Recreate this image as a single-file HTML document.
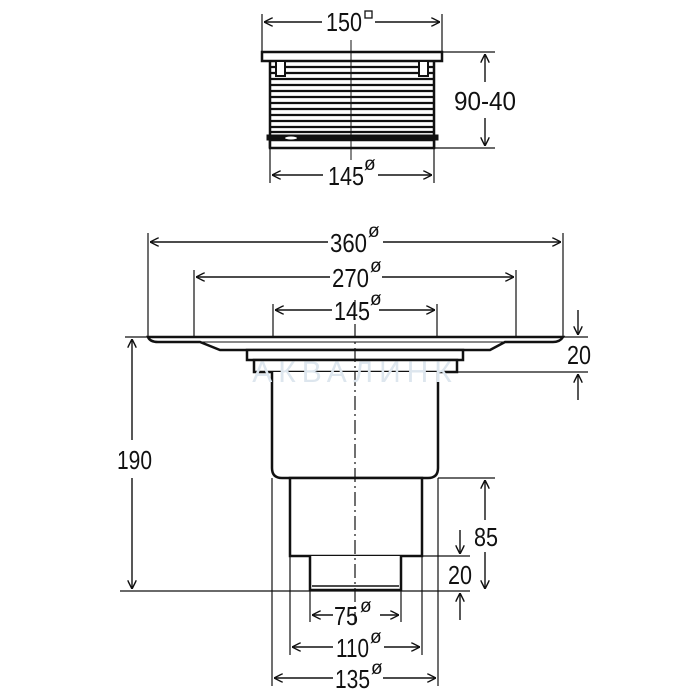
<!DOCTYPE html>
<html><head><meta charset="utf-8"><style>
html,body{margin:0;padding:0;background:#fff;}
svg{display:block;}
text{font-family:"Liberation Sans",sans-serif;fill:#111;}
</style></head><body>
<svg width="700" height="700" viewBox="0 0 700 700" xmlns="http://www.w3.org/2000/svg">
<defs>
<marker id="a" viewBox="0 0 10 10" refX="10" refY="5" markerWidth="9" markerHeight="9" orient="auto-start-reverse" markerUnits="userSpaceOnUse">
<path d="M0,0 L10,5 L0,10" fill="none" stroke="#111" stroke-width="1.6"/>
</marker>
</defs>
<g stroke="#111" fill="none">
<line x1="262" y1="14" x2="262" y2="52" stroke-width="1.2"/>
<line x1="442" y1="14" x2="442" y2="52" stroke-width="1.2"/>
<line x1="264" y1="22" x2="322" y2="22" stroke-width="1.4" marker-start="url(#a)"/>
<line x1="375" y1="22" x2="440" y2="22" stroke-width="1.4" marker-end="url(#a)"/>
<rect x="262" y="52" width="180" height="9" stroke-width="2.5" fill="#fff"/>
<g stroke-width="2.2">
<line x1="270" y1="67" x2="434" y2="67"/><line x1="270" y1="73" x2="434" y2="73"/>
<line x1="270" y1="79" x2="434" y2="79"/><line x1="270" y1="85" x2="434" y2="85"/>
<line x1="270" y1="91" x2="434" y2="91"/><line x1="270" y1="97" x2="434" y2="97"/>
<line x1="270" y1="103" x2="434" y2="103"/><line x1="270" y1="109" x2="434" y2="109"/>
<line x1="270" y1="115" x2="434" y2="115"/><line x1="270" y1="121" x2="434" y2="121"/>
<line x1="270" y1="127" x2="434" y2="127"/><line x1="270" y1="132" x2="434" y2="132"/>
</g>
<line x1="270" y1="61" x2="270" y2="148" stroke-width="2.5"/>
<line x1="434" y1="61" x2="434" y2="148" stroke-width="2.5"/>
<rect x="276" y="61" width="9" height="15" stroke-width="2" fill="#fff"/>
<rect x="419" y="61" width="9" height="15" stroke-width="2" fill="#fff"/>
<rect x="267" y="135" width="171" height="5" fill="#111" stroke-width="1"/>
<rect x="270" y="140" width="164" height="8" stroke-width="2.5" fill="#fff"/>
<ellipse cx="291" cy="138" rx="6" ry="1.5" fill="#fff" stroke="none"/>
<line x1="351" y1="40" x2="351" y2="160" stroke-width="1"/>
<line x1="442" y1="52" x2="495" y2="52" stroke-width="1.2"/>
<line x1="434" y1="148" x2="495" y2="148" stroke-width="1.2"/>
<line x1="485" y1="82" x2="485" y2="54" stroke-width="1.4" marker-end="url(#a)"/>
<line x1="485" y1="118" x2="485" y2="146" stroke-width="1.4" marker-end="url(#a)"/>
<line x1="270" y1="148" x2="270" y2="183" stroke-width="1.2"/>
<line x1="434" y1="148" x2="434" y2="183" stroke-width="1.2"/>
<line x1="272" y1="175" x2="323" y2="175" stroke-width="1.4" marker-start="url(#a)"/>
<line x1="378" y1="175" x2="432" y2="175" stroke-width="1.4" marker-end="url(#a)"/>

<line x1="148" y1="233" x2="148" y2="337" stroke-width="1.2"/>
<line x1="563" y1="233" x2="563" y2="337" stroke-width="1.2"/>
<line x1="150" y1="242" x2="328" y2="242" stroke-width="1.4" marker-start="url(#a)"/>
<line x1="383" y1="242" x2="561" y2="242" stroke-width="1.4" marker-end="url(#a)"/>
<line x1="194" y1="270" x2="194" y2="337" stroke-width="1.2"/>
<line x1="516" y1="270" x2="516" y2="337" stroke-width="1.2"/>
<line x1="196" y1="277" x2="330" y2="277" stroke-width="1.4" marker-start="url(#a)"/>
<line x1="382" y1="277" x2="514" y2="277" stroke-width="1.4" marker-end="url(#a)"/>
<line x1="273" y1="304" x2="273" y2="337" stroke-width="1.2"/>
<line x1="437" y1="304" x2="437" y2="337" stroke-width="1.2"/>
<line x1="275" y1="310" x2="332" y2="310" stroke-width="1.4" marker-start="url(#a)"/>
<line x1="379" y1="310" x2="435" y2="310" stroke-width="1.4" marker-end="url(#a)"/>

<path d="M148,337 L563,337 Q560,342 553,342 L505,342 L490,350 L220,350 L200,342 L158,342 Q150,342 148,337 Z" stroke-width="2.5" fill="#fff"/>
<line x1="175" y1="342" x2="540" y2="342" stroke-width="1"/>
<rect x="247" y="350" width="216" height="10" stroke-width="2.5" fill="#fff"/>
<rect x="254" y="360" width="203" height="12" stroke-width="2.5" fill="#fff"/>
<path d="M272,372 L272,468 Q272,478 282,478 L428,478 Q438,478 438,468 L438,372" stroke-width="2.5" fill="#fff"/>
<rect x="290" y="478" width="132" height="78" stroke-width="2.5" fill="#fff"/>
<path d="M310,556 L310,590 L401,590 L401,556" stroke-width="2.5" fill="#fff"/>
<line x1="312" y1="586" x2="399" y2="586" stroke-width="1.5"/>
<line x1="355" y1="300" x2="355" y2="622" stroke-width="1.2" stroke-dasharray="14,4,2,4"/>

<line x1="125" y1="337" x2="148" y2="337" stroke-width="1.2"/>
<line x1="120" y1="591" x2="470" y2="591" stroke-width="1.2"/>
<line x1="132" y1="440" x2="132" y2="339" stroke-width="1.4" marker-end="url(#a)"/>
<line x1="132" y1="478" x2="132" y2="589" stroke-width="1.4" marker-end="url(#a)"/>
<line x1="563" y1="337" x2="588" y2="337" stroke-width="1.2"/>
<line x1="457" y1="372" x2="588" y2="372" stroke-width="1.2"/>
<line x1="578" y1="310" x2="578" y2="335" stroke-width="1.4" marker-end="url(#a)"/>
<line x1="578" y1="400" x2="578" y2="374" stroke-width="1.4" marker-end="url(#a)"/>
<line x1="438" y1="478" x2="495" y2="478" stroke-width="1.2"/>
<line x1="485" y1="520" x2="485" y2="480" stroke-width="1.4" marker-end="url(#a)"/>
<line x1="485" y1="552" x2="485" y2="589" stroke-width="1.4" marker-end="url(#a)"/>
<line x1="401" y1="556" x2="470" y2="556" stroke-width="1.2"/>
<line x1="460" y1="530" x2="460" y2="554" stroke-width="1.4" marker-end="url(#a)"/>
<line x1="460" y1="620" x2="460" y2="593" stroke-width="1.4" marker-end="url(#a)"/>
<line x1="310" y1="590" x2="310" y2="622" stroke-width="1.2"/>
<line x1="401" y1="590" x2="401" y2="622" stroke-width="1.2"/>
<line x1="312" y1="615" x2="333" y2="615" stroke-width="1.4" marker-start="url(#a)"/>
<line x1="380" y1="615" x2="399" y2="615" stroke-width="1.4" marker-end="url(#a)"/>
<line x1="290" y1="556" x2="290" y2="655" stroke-width="1.2"/>
<line x1="422" y1="556" x2="422" y2="655" stroke-width="1.2"/>
<line x1="292" y1="647" x2="333" y2="647" stroke-width="1.4" marker-start="url(#a)"/>
<line x1="384" y1="647" x2="420" y2="647" stroke-width="1.4" marker-end="url(#a)"/>
<line x1="272" y1="478" x2="272" y2="686" stroke-width="1.2"/>
<line x1="438" y1="478" x2="438" y2="686" stroke-width="1.2"/>
<line x1="274" y1="678" x2="333" y2="678" stroke-width="1.4" marker-start="url(#a)"/>
<line x1="383" y1="678" x2="436" y2="678" stroke-width="1.4" marker-end="url(#a)"/>
</g>
<text x="355" y="382" font-size="30" text-anchor="middle" style="fill:#dde6ee" letter-spacing="6">АКВАЛИНК</text>
<g font-size="26">
<text x="326" y="31" textLength="36" lengthAdjust="spacingAndGlyphs">150</text>
<rect x="365" y="11" width="7" height="7" fill="none" stroke="#111" stroke-width="1.3"/>
<text x="454" y="110" textLength="62" lengthAdjust="spacingAndGlyphs" style="paint-order:stroke;stroke:#fff;stroke-width:6">90-40</text>
<text x="328" y="185" textLength="36" lengthAdjust="spacingAndGlyphs">145</text>
<text x="330" y="252" textLength="37" lengthAdjust="spacingAndGlyphs">360</text>
<text x="332" y="287" textLength="37" lengthAdjust="spacingAndGlyphs">270</text>
<text x="334" y="320" textLength="36" lengthAdjust="spacingAndGlyphs">145</text>
<text x="117" y="469" textLength="35" lengthAdjust="spacingAndGlyphs">190</text>
<text x="567" y="364" textLength="24" lengthAdjust="spacingAndGlyphs">20</text>
<text x="474" y="546" textLength="24" lengthAdjust="spacingAndGlyphs">85</text>
<text x="448" y="584" textLength="24" lengthAdjust="spacingAndGlyphs">20</text>
<text x="334" y="625" textLength="24" lengthAdjust="spacingAndGlyphs">75</text>
<text x="336" y="657" textLength="33" lengthAdjust="spacingAndGlyphs">110</text>
<text x="335" y="688" textLength="35" lengthAdjust="spacingAndGlyphs">135</text>
</g>
<g font-size="19">
<text x="364" y="170">ø</text>
<text x="368" y="237">ø</text>
<text x="370" y="272">ø</text>
<text x="370" y="305">ø</text>
<text x="360" y="612">ø</text>
<text x="370" y="643">ø</text>
<text x="371" y="674">ø</text>
</g>
</svg>
</body></html>
